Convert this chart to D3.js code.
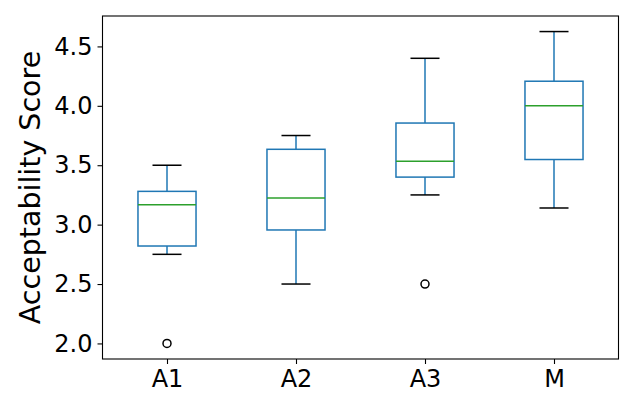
<!DOCTYPE html>
<html>
<head>
<meta charset="utf-8">
<script src="https://cdn.jsdelivr.net/npm/d3@7"></script>
<style>
  body { margin: 0; background: #fff; }
  text { font-family: "DejaVu Sans", sans-serif; fill: #000; }
</style>
</head>
<body>
<svg id="chart" width="637" height="395"></svg>
<script>
// box summaries
let groups = ['A1', 'A2', 'A3', 'M'];
let whiskerLow = [2.75, 2.5, 3.25, 3.14];
let q1 = [2.82, 2.955, 3.40, 3.548];
let medians = [3.167, 3.224, 3.534, 4.0];
let q3 = [3.28, 3.634, 3.855, 4.207];
let whiskerHigh = [3.5, 3.75, 4.4, 4.625];
let outliers = [[2.0], [], [2.5], []];
let yTicks = [2.0, 2.5, 3.0, 3.5, 4.0, 4.5];

let margin = { left: 102.5, right: 18.5, top: 16, bottom: 36 };
let width = 637, height = 395;

let svg = d3.select('#chart');

let x = d3.scaleLinear()
  .domain([0.5, 4.5])
  .range([margin.left, width - margin.right]);

let y = d3.scaleLinear()
  .domain([1.869, 4.756])
  .range([height - margin.bottom, margin.top]);

let step = x(2) - x(1);
let boxW = 0.45 * step;
let capW = boxW / 2;

let data = groups.map(function (g, i) {
  return {
    name: g, pos: i + 1,
    lo: whiskerLow[i], q1: q1[i], med: medians[i], q3: q3[i], hi: whiskerHigh[i],
    out: outliers[i]
  };
});

let g = svg.selectAll('g.box')
  .data(data)
  .enter()
  .append('g')
  .attr('class', 'box');

// whiskers
g.append('line')
  .attr('x1', d => x(d.pos)).attr('x2', d => x(d.pos))
  .attr('y1', d => y(d.lo)).attr('y2', d => y(d.q1))
  .attr('stroke', '#1f77b4').attr('stroke-width', 1.5);
g.append('line')
  .attr('x1', d => x(d.pos)).attr('x2', d => x(d.pos))
  .attr('y1', d => y(d.q3)).attr('y2', d => y(d.hi))
  .attr('stroke', '#1f77b4').attr('stroke-width', 1.5);

// caps
g.selectAll('line.cap')
  .data(d => [[d.pos, d.lo], [d.pos, d.hi]])
  .enter()
  .append('line')
  .attr('class', 'cap')
  .attr('x1', d => x(d[0]) - capW / 2).attr('x2', d => x(d[0]) + capW / 2)
  .attr('y1', d => y(d[1])).attr('y2', d => y(d[1]))
  .attr('stroke', '#000').attr('stroke-width', 1.5);

// boxes
g.append('rect')
  .attr('x', d => x(d.pos) - boxW / 2)
  .attr('width', boxW)
  .attr('y', d => y(d.q3))
  .attr('height', d => y(d.q1) - y(d.q3))
  .attr('fill', 'none')
  .attr('stroke', '#1f77b4').attr('stroke-width', 1.5);

// medians
g.append('line')
  .attr('x1', d => x(d.pos) - boxW / 2).attr('x2', d => x(d.pos) + boxW / 2)
  .attr('y1', d => y(d.med)).attr('y2', d => y(d.med))
  .attr('stroke', '#2ca02c').attr('stroke-width', 1.4);

// fliers
g.selectAll('circle')
  .data(d => d.out.map(v => [d.pos, v]))
  .enter()
  .append('circle')
  .attr('cx', d => x(d[0])).attr('cy', d => y(d[1]))
  .attr('r', 4)
  .attr('fill', 'none')
  .attr('stroke', '#000').attr('stroke-width', 1.5);

// axes
let yAxis = d3.axisLeft(y)
  .tickValues(yTicks)
  .tickFormat(d3.format('.1f'))
  .tickSize(5)
  .tickPadding(5);

let xAxis = d3.axisBottom(x)
  .tickValues([1, 2, 3, 4])
  .tickFormat(d => groups[d - 1])
  .tickSize(5)
  .tickPadding(6);

let ya = svg.append('g')
  .attr('transform', 'translate(' + margin.left + ',0)')
  .call(yAxis);
let xa = svg.append('g')
  .attr('transform', 'translate(0,' + (height - margin.bottom) + ')')
  .call(xAxis);

[ya, xa].forEach(function (a) {
  a.select('.domain').remove();
  a.selectAll('.tick line').attr('stroke', '#000').attr('stroke-width', 1.1);
  a.selectAll('.tick text')
    .attr('font-size', 24)
    .attr('font-family', '"DejaVu Sans", sans-serif');
});

// frame
svg.append('rect')
  .attr('x', margin.left).attr('y', margin.top)
  .attr('width', width - margin.left - margin.right)
  .attr('height', height - margin.top - margin.bottom)
  .attr('fill', 'none')
  .attr('stroke', '#000').attr('stroke-width', 1.1);

svg.append('text')
  .attr('transform', 'translate(40,' + ((margin.top + height - margin.bottom) / 2) + ') rotate(-90)')
  .attr('text-anchor', 'middle')
  .attr('font-size', 28.5)
  .text('Acceptability Score');
</script>
</body>
</html>
